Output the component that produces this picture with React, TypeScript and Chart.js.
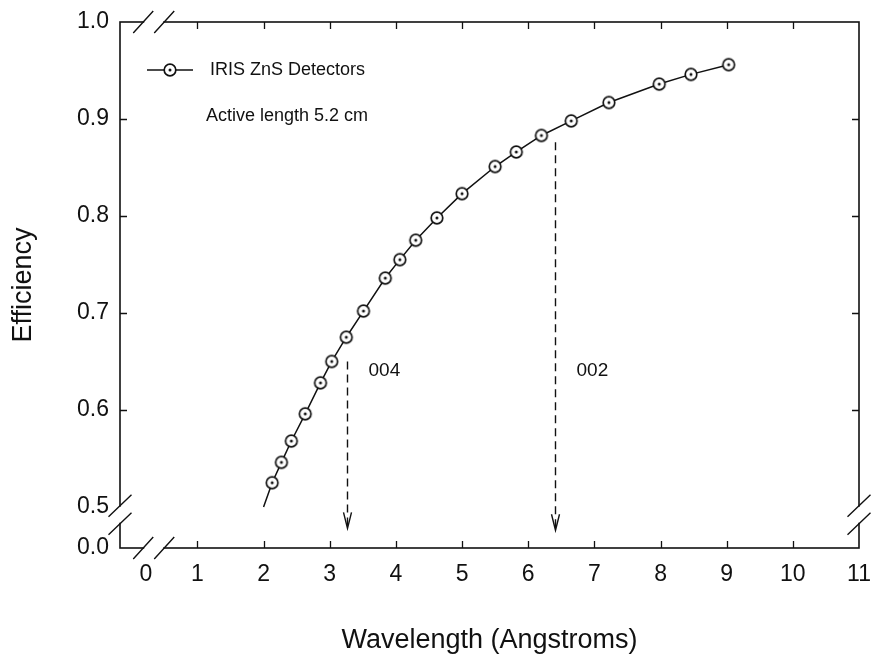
import React, { useEffect, useRef } from 'react';
import { Chart, registerables } from 'chart.js';

Chart.register(...registerables);

// ---------- data ----------
const wavelength = [2.0, 2.13, 2.27, 2.42, 2.63, 2.86, 3.03, 3.25, 3.51, 3.84, 4.06, 4.3, 4.62, 5.0, 5.5, 5.82, 6.2, 6.65, 7.22, 7.98, 8.46, 9.03];
const efficiency = [0.5, 0.525, 0.546, 0.568, 0.596, 0.628, 0.65, 0.675, 0.702, 0.736, 0.755, 0.775, 0.798, 0.823, 0.851, 0.866, 0.883, 0.898, 0.917, 0.936, 0.946, 0.956];
const hasMarker = [false, true, true, true, true, true, true, true, true, true, true, true, true, true, true, true, true, true, true, true, true, true];

const seriesLabel = 'IRIS ZnS Detectors';
const noteText = 'Active length 5.2 cm';

const arrowLabels = ['004', '002'];
const arrowX = [3.26, 6.4];
const arrowTop = [0.65, 0.876];
const arrowTip = [0.478, 0.476];
const arrowLabelY = [0.64, 0.64];

// axis configuration (broken axes)
const xTickValues = [1, 2, 3, 4, 5, 6, 7, 8, 9, 10, 11];
const X_ZERO_AT = 0.22; // where the "0" label sits left of the x break
const X_MIN = -0.17;
const X_MAX = 11;
const X_BREAK = 0.34;

const yTickValues = [0.5, 0.6, 0.7, 0.8, 0.9, 1.0];
const Y_MIN = 0.4577; // bottom of axis, labelled "0.0"
const Y_MAX = 1.0;
const Y_BREAK = 0.492;

const FONT = '"Liberation Sans", Arial, Helvetica, sans-serif';
const INK = '#111';
const TICK = 7;

function makeMarker(): HTMLCanvasElement {
  const c = document.createElement('canvas');
  c.width = 16;
  c.height = 16;
  const g = c.getContext('2d')!;
  g.beginPath();
  g.arc(8, 8, 5.8, 0, Math.PI * 2);
  g.fillStyle = '#fff';
  g.fill();
  g.lineWidth = 1.7;
  g.strokeStyle = INK;
  g.stroke();
  g.beginPath();
  g.arc(8, 8, 1.5, 0, Math.PI * 2);
  g.fillStyle = INK;
  g.fill();
  return c;
}

function drawBreakH(ctx: CanvasRenderingContext2D, cx: number, cy: number) {
  const half = 10.5;
  ctx.fillStyle = '#fff';
  ctx.fillRect(cx - half + 1, cy - 3, half * 2 - 2, 6);
  ctx.beginPath();
  for (const sx of [cx - half, cx + half]) {
    ctx.moveTo(sx - 10, cy + 11);
    ctx.lineTo(sx + 10, cy - 11);
  }
  ctx.stroke();
}

function drawBreakV(ctx: CanvasRenderingContext2D, cx: number, cy: number) {
  const half = 9;
  ctx.fillStyle = '#fff';
  ctx.fillRect(cx - 3, cy - half + 1, 6, half * 2 - 2);
  ctx.beginPath();
  for (const sy of [cy - half, cy + half]) {
    ctx.moveTo(cx - 11.5, sy + 11);
    ctx.lineTo(cx + 11.5, sy - 11);
  }
  ctx.stroke();
}

const decorPlugin = {
  id: 'decor',
  afterDraw(chart: any) {
    const { ctx, chartArea: a, scales } = chart;
    const xs = scales.x;
    const ys = scales.y;
    ctx.save();
    ctx.strokeStyle = INK;
    ctx.lineWidth = 1.6;
    ctx.strokeRect(a.left, a.top, a.right - a.left, a.bottom - a.top);

    // inward tick marks on all four sides
    ctx.lineWidth = 1.3;
    ctx.beginPath();
    for (const v of xTickValues) {
      if (v <= X_MIN || v >= X_MAX) continue;
      const px = Math.round(xs.getPixelForValue(v)) + 0.5;
      ctx.moveTo(px, a.bottom);
      ctx.lineTo(px, a.bottom - TICK);
      ctx.moveTo(px, a.top);
      ctx.lineTo(px, a.top + TICK);
    }
    for (const v of yTickValues) {
      if (v <= Y_BREAK + 0.02 || v >= Y_MAX) continue;
      const py = Math.round(ys.getPixelForValue(v)) + 0.5;
      ctx.moveTo(a.left, py);
      ctx.lineTo(a.left + TICK, py);
      ctx.moveTo(a.right, py);
      ctx.lineTo(a.right - TICK, py);
    }
    ctx.stroke();

    // axis breaks
    ctx.lineWidth = 1.4;
    const bx = xs.getPixelForValue(X_BREAK);
    drawBreakH(ctx, bx, a.bottom);
    drawBreakH(ctx, bx, a.top);
    const by = ys.getPixelForValue(Y_BREAK);
    drawBreakV(ctx, a.left, by);
    drawBreakV(ctx, a.right, by);

    // legend
    const ds = chart.data.datasets[0];
    const ly = a.top + 48;
    ctx.lineWidth = 1.5;
    ctx.beginPath();
    ctx.moveTo(a.left + 27, ly);
    ctx.lineTo(a.left + 73, ly);
    ctx.stroke();
    const mk = ds.pointStyle as HTMLCanvasElement;
    ctx.drawImage(mk, a.left + 50 - mk.width / 2, ly - mk.height / 2);
    ctx.fillStyle = INK;
    ctx.font = `18px ${FONT}`;
    ctx.textAlign = 'left';
    ctx.textBaseline = 'middle';
    ctx.fillText(ds.label, a.left + 90, ly);
    ctx.fillText(noteText, a.left + 86, a.top + 94);

    // dashed arrows
    ctx.font = `19px ${FONT}`;
    for (let i = 0; i < arrowLabels.length; i++) {
      const px = Math.round(xs.getPixelForValue(arrowX[i])) + 0.5;
      const top = ys.getPixelForValue(arrowTop[i]);
      const tip = ys.getPixelForValue(arrowTip[i]);
      ctx.lineWidth = 1.4;
      ctx.setLineDash([8, 5]);
      ctx.beginPath();
      ctx.moveTo(px, top);
      ctx.lineTo(px, tip - 2);
      ctx.stroke();
      ctx.setLineDash([]);
      ctx.beginPath();
      ctx.moveTo(px - 4, tip - 16);
      ctx.lineTo(px, tip);
      ctx.lineTo(px + 4, tip - 16);
      ctx.stroke();
      ctx.fillText(arrowLabels[i], px + 21, ys.getPixelForValue(arrowLabelY[i]));
    }
    ctx.restore();
  },
};

export default function App() {
  const ref = useRef<HTMLCanvasElement | null>(null);

  useEffect(() => {
    document.body.style.margin = '0';
    const canvas = ref.current!;
    const marker = makeMarker();
    const points = wavelength.map((x, i) => ({ x, y: efficiency[i] }));

    const chart = new Chart(canvas, {
      type: 'line',
      data: {
        datasets: [
          {
            label: seriesLabel,
            data: points,
            borderColor: INK,
            borderWidth: 1.5,
            tension: 0,
            pointStyle: marker as any,
            pointRadius: hasMarker.map((m) => (m ? 6 : 0)),
            pointHoverRadius: 0,
            fill: false,
          },
        ],
      },
      options: {
        animation: false,
        responsive: false,
        events: [],
        layout: { padding: { left: 0, top: 22, right: 13, bottom: 0 } },
        plugins: {
          legend: { display: false },
          tooltip: { enabled: false },
          title: { display: false },
        },
        scales: {
          x: {
            type: 'linear',
            min: X_MIN,
            max: X_MAX,
            bounds: 'data',
            grid: { display: false, drawTicks: false },
            border: { display: false },
            afterBuildTicks: (scale: any) => {
              scale.ticks = [X_ZERO_AT, ...xTickValues].map((v) => ({ value: v }));
            },
            afterFit: (scale: any) => {
              scale.height = 112;
              scale.paddingLeft = 0;
              scale.paddingRight = 0;
            },
            ticks: {
              autoSkip: false,
              maxRotation: 0,
              padding: 13,
              color: INK,
              font: { family: FONT, size: 23 },
              callback: (v: any, i: number) => (i === 0 ? '0' : String(v)),
            },
            title: {
              display: true,
              text: 'Wavelength (Angstroms)',
              color: INK,
              font: { family: FONT, size: 27 },
              padding: { top: 0, bottom: 3 },
            },
          },
          y: {
            type: 'linear',
            min: Y_MIN,
            max: Y_MAX,
            bounds: 'data',
            grid: { display: false, drawTicks: false },
            border: { display: false },
            afterBuildTicks: (scale: any) => {
              scale.ticks = [Y_MIN, ...yTickValues].map((v) => ({ value: v }));
            },
            afterFit: (scale: any) => {
              scale.width = 120;
              scale.paddingTop = 0;
              scale.paddingBottom = 0;
            },
            ticks: {
              autoSkip: false,
              padding: 11,
              color: INK,
              font: { family: FONT, size: 23 },
              callback: (v: any, i: number) => (i === 0 ? '0.0' : Number(v).toFixed(1)),
            },
            title: {
              display: true,
              text: 'Efficiency',
              color: INK,
              font: { family: FONT, size: 27 },
              padding: { top: 7, bottom: 0 },
            },
          },
        },
      },
      plugins: [decorPlugin],
    });

    return () => chart.destroy();
  }, []);

  return (
    <div style={{ width: 872, height: 660, background: '#fff' }}>
      <canvas ref={ref} width={872} height={660} style={{ display: 'block' }} />
    </div>
  );
}
